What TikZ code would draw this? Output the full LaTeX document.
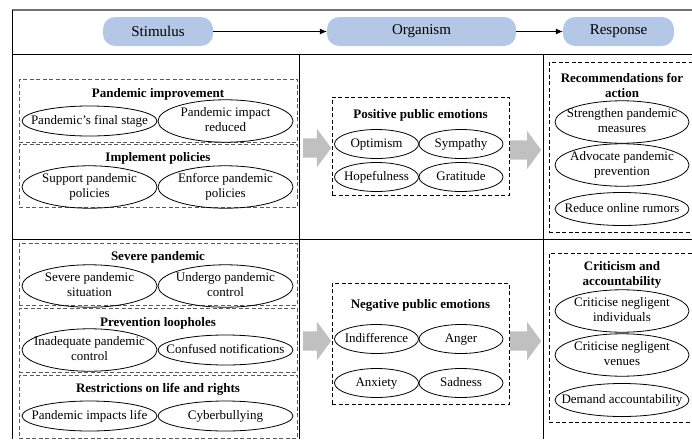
\documentclass[tikz,border=0pt]{standalone}
\usepackage{fontspec}
\setmainfont{Liberation Serif}
\usetikzlibrary{positioning,shapes.geometric,shapes.arrows,arrows.meta}
\definecolor{phaseblue}{HTML}{B4C7E7}
\definecolor{flowgrey}{HTML}{C0C0C0}
\newcommand{\otext}[1]{\makebox[0pt]{\begin{tabular}{@{}c@{}}#1\end{tabular}}}

\begin{document}
\begin{tikzpicture}[x=1pt,y=-1pt]
\tikzstyle{phase}    = [rectangle, rounded corners=12pt, fill=phaseblue, minimum height=29pt, font=\fontsize{15}{17}\selectfont]
\tikzstyle{grp_grey} = [rectangle, draw=black!65, line width=0.8pt, dash pattern=on 4pt off 2.5pt, minimum width=278pt]
\tikzstyle{grp}      = [rectangle, draw=black, line width=0.8pt, dash pattern=on 4pt off 2.5pt]
\tikzstyle{heading}  = [inner sep=0pt, align=center, font=\fontsize{13}{15}\selectfont\bfseries]
\tikzstyle{oval}     = [ellipse, draw=black, line width=0.8pt, inner sep=0pt, font=\fontsize{13}{15}\selectfont]
\tikzstyle{oval_s}   = [oval, minimum width=135pt, minimum height=30pt]
\tikzstyle{oval_o}   = [oval, minimum width=84pt, minimum height=29pt]
\tikzstyle{oval_r}   = [oval, minimum width=134pt, minimum height=33pt]
\tikzstyle{flow}     = [single arrow, fill=flowgrey, inner sep=9.5pt, minimum width=38pt, single arrow head extend=9.5pt, single arrow tip angle=107, anchor=tail]
\tikzstyle{arrow}    = [line width=0.8pt, -{Latex[length=7pt,width=6pt]}]

\useasboundingbox (0,0) rectangle (692,439);

% frame
\draw [black!55, line width=1.6pt] (12,10) -- (692,10);
\draw [line width=0.8pt] (12.5,10) -- (12.5,439);
\draw [line width=0.8pt] (12,54) -- (692,54);
\draw [line width=0.8pt] (12,239) -- (692,239);
\draw [line width=0.8pt] (299.5,54) -- (299.5,439);
\draw [line width=0.8pt] (543,54) -- (543,439);

% S-O-R header
\node (stim) [phase, minimum width=110pt] at (158,31.5)   {Stimulus};
\node (org)  [phase, minimum width=189pt] at (421.5,31.5) {Organism};
\node (resp) [phase, minimum width=111pt] at (618.5,31.5) {Response};

\draw [arrow] (stim) -- (org);
\draw [arrow] (org)  -- (resp);

% stimulus, positive row
\node (improve)   [grp_grey, minimum height=63pt] at (158,110.5) {};
\node (improve_t) [heading] at (158,94) {Pandemic improvement};
\node (final)     [oval_s] at (89.5,121) {\otext{Pandemic's final stage}};
\node (reduced)   [oval_s, right of=final, node distance=136pt] {\otext{Pandemic impact\\reduced}};

\node (policy)    [grp_grey, minimum height=63pt] at (158,175.5) {};
\node (policy_t)  [heading] at (158,158) {Implement policies};
\node (support)   [oval_s] at (89.5,187) {\otext{Support pandemic\\policies}};
\node (enforce)   [oval_s, right of=support, node distance=136pt] {\otext{Enforce pandemic\\policies}};

% stimulus, negative row
\node (severe)    [grp_grey, minimum height=62pt] at (158,274) {};
\node (severe_t)  [heading] at (158,257) {Severe pandemic};
\node (situation) [oval_s] at (89.5,286) {\otext{Severe pandemic\\situation}};
\node (control)   [oval_s, right of=situation, node distance=136pt] {\otext{Undergo pandemic\\control}};

\node (loophole)   [grp_grey, minimum height=64pt] at (158,340) {};
\node (loophole_t) [heading] at (158,323) {Prevention loopholes};
\node (inadequate) [oval_s] at (89.5,350) {\otext{Inadequate pandemic\\control}};
\node (notice)     [oval_s, right of=inadequate, node distance=136pt] {\otext{Confused notifications}};

\node (restrict)   [grp_grey, minimum height=63pt] at (158,406.5) {};
\node (restrict_t) [heading] at (158,389) {Restrictions on life and rights};
\node (life)       [oval_s] at (89.5,416) {\otext{Pandemic impacts life}};
\node (bully)      [oval_s, right of=life, node distance=136pt] {\otext{Cyberbullying}};

% organism
\node (pos)   [grp, minimum width=177pt, minimum height=98pt] at (420.5,146) {};
\node (pos_t) [heading] at (420.5,115) {Positive public emotions};
\node (optim) [oval_o] at (376.5,144) {\otext{Optimism}};
\node (sympa) [oval_o, right of=optim, node distance=84.5pt] {\otext{Sympathy}};
\node (hope)  [oval_o, below of=optim, node distance=33pt]   {\otext{Hopefulness}};
\node (grati) [oval_o, right of=hope, node distance=84.5pt]  {\otext{Gratitude}};

\node (neg)     [grp, minimum width=177pt, minimum height=121pt] at (420.5,343.5) {};
\node (neg_t)   [heading] at (420.5,305) {Negative public emotions};
\node (indiff)  [oval_o] at (376.5,339) {\otext{Indifference}};
\node (anger)   [oval_o, right of=indiff, node distance=84.5pt] {\otext{Anger}};
\node (anxiety) [oval_o, below of=indiff, node distance=44pt]   {\otext{Anxiety}};
\node (sad)     [oval_o, right of=anxiety, node distance=84.5pt] {\otext{Sadness}};

% response
\node (rec)    [grp, minimum width=146pt, minimum height=170pt] at (622,147) {};
\node (rec_t)  [heading] at (622,85.5) {Recommendations for\\action};
\node (streng) [oval_r] at (622,122) {\otext{Strengthen pandemic\\measures}};
\node (advoc)  [oval_r, below of=streng, node distance=43pt] {\otext{Advocate pandemic\\prevention}};
\node (rumor)  [oval_r, below of=advoc, node distance=44pt]  {\otext{Reduce online rumors}};

\node (crit)   [grp, minimum width=146pt, minimum height=169pt] at (622,337.5) {};
\node (crit_t) [heading] at (622,274.5) {Criticism and\\accountability};
\node (indiv)  [oval_r] at (622,311) {\otext{Criticise negligent\\individuals}};
\node (venue)  [oval_r, below of=indiv, node distance=44pt] {\otext{Criticise negligent\\venues}};
\node (demand) [oval_r, below of=venue, node distance=45pt] {\otext{Demand accountability}};

% grey flow arrows
\node (flow1) [flow, minimum height=28pt] at (303,148) {};
\node (flow2) [flow, minimum height=31pt] at (510,150) {};
\node (flow3) [flow, minimum height=28pt] at (303,341) {};
\node (flow4) [flow, minimum height=31pt] at (510,341) {};
\end{tikzpicture}
\end{document}
